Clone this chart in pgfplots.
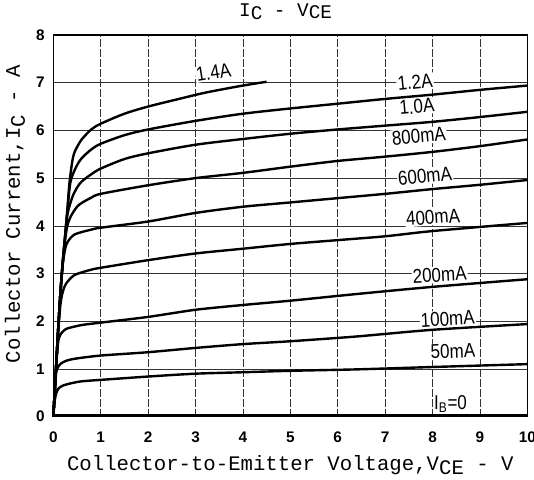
\documentclass[border=0pt]{standalone}
\usepackage{pgfplots}
\pgfplotsset{compat=1.18}
\usepackage{fontspec}
\setmainfont{Liberation Sans}
\newfontfamily\monofont{Liberation Mono}
\newfontfamily\lblfont[FakeStretch=0.85]{Liberation Sans}
\pgfplotsset{curve/.style={black, solid, no markers, line width=1.8pt, smooth, tension=0.45}}
\begin{document}
\begin{tikzpicture}
\useasboundingbox (-40pt,-46.8pt) rectangle (360.5pt,312.45pt);
\begin{axis}[
  at={(0pt,0pt)}, anchor=south west,
  scale only axis, width=355.5pt, height=286.2pt,
  xmin=0, xmax=10, ymin=0, ymax=8,
  xtick={0,1,...,10}, ytick={0,1,...,8},
  grid=major,
  x grid style={black!80, line width=0.45pt, dash pattern=on 6pt off 1.5pt},
  y grid style={black!80, line width=0.45pt},
  major tick length=0pt,
  axis line style={line width=0.8pt},
  tick label style={font=\fontsize{11.5}{13}\selectfont\bfseries},
  /pgf/number format/assume math mode=true,
  xticklabel style={yshift=-8pt},
  yticklabel style={xshift=-3pt},
  title={I\raisebox{-0.35ex}{C} - V\raisebox{-0.25ex}{CE}},
  title style={at={(axis description cs:0.49,1)}, anchor=base, yshift=8.25pt, font=\monofont\fontsize{14.5}{16}\selectfont},
  xlabel={Collector-to-Emitter Voltage,V\raisebox{-0.45ex}{CE} - V},
  xlabel style={at={(axis description cs:0.5,-0.14)}, anchor=base, font=\monofont\fontsize{15.5}{18}\selectfont},
  ylabel={Collector Current,I\raisebox{-0.45ex}{C} - A},
  ylabel style={at={(axis description cs:-0.081,0.53)}, anchor=center, font=\monofont\fontsize{15.5}{18}\selectfont},
  clip=false,
]
% IB = 0
\addplot[black, no markers, line width=1.8pt] coordinates {(0,0.02) (10,0.02)};
% 50 mA
\addplot[curve] coordinates {(0,0) (0.02,0.25) (0.05,0.45) (0.1,0.58) (0.2,0.65) (0.38,0.70) (0.6,0.74) (1,0.77) (2,0.84) (3,0.90) (4,0.93) (5,0.96) (6.4,0.99) (8,1.04) (10,1.10)};
% 100 mA
\addplot[curve] coordinates {(0,0) (0.03,0.5) (0.06,0.92) (0.1,1.04) (0.17,1.12) (0.3,1.18) (0.5,1.22) (1,1.28) (2,1.35) (3,1.44) (4,1.52) (5,1.58) (6.4,1.68) (8,1.82) (10,1.94)};
% 200 mA
\addplot[curve] coordinates {(0,0) (0.05,0.9) (0.1,1.55) (0.15,1.72) (0.22,1.80) (0.3,1.85) (0.6,1.92) (1,1.97) (2,2.09) (3,2.24) (4,2.34) (5,2.43) (6.4,2.57) (8,2.72) (10,2.88)};
% 400 mA
\addplot[curve] coordinates {(0,0) (0.05,0.9) (0.1,1.75) (0.15,2.35) (0.2,2.62) (0.27,2.79) (0.45,2.97) (0.8,3.08) (1,3.12) (2,3.28) (3,3.42) (4,3.52) (5,3.62) (6,3.70) (7,3.78) (8,3.89) (10,4.06)};
% 600 mA
\addplot[curve] coordinates {(0,0) (0.05,0.9) (0.1,1.8) (0.15,2.6) (0.2,3.2) (0.25,3.52) (0.3,3.66) (0.45,3.82) (0.8,3.92) (1,3.96) (2,4.09) (3,4.27) (4,4.40) (5,4.49) (6,4.58) (7,4.67) (8,4.77) (9,4.86) (10,4.96)};
% 800 mA
\addplot[curve] coordinates {(0,0) (0.05,0.9) (0.1,1.8) (0.15,2.6) (0.2,3.25) (0.25,3.72) (0.3,4.02) (0.38,4.22) (0.5,4.4) (0.6,4.48) (0.8,4.59) (1,4.67) (2,4.85) (3,5.0) (4,5.11) (5,5.24) (6,5.36) (7,5.45) (8,5.55) (9,5.67) (10,5.81)};
% 1.0 A
\addplot[curve] coordinates {(0,0) (0.05,0.9) (0.1,1.8) (0.15,2.6) (0.2,3.25) (0.25,3.8) (0.3,4.25) (0.4,4.6) (0.5,4.8) (0.6,4.93) (0.8,5.08) (1,5.2) (1.5,5.4) (2,5.52) (3,5.7) (4,5.82) (5,5.93) (6,6.02) (7,6.10) (8,6.18) (9,6.28) (10,6.39)};
% 1.2 A
\addplot[curve] coordinates {(0,0) (0.05,0.9) (0.1,1.8) (0.15,2.6) (0.2,3.25) (0.25,3.8) (0.3,4.35) (0.35,4.85) (0.4,5.05) (0.5,5.27) (0.6,5.42) (0.8,5.6) (1,5.72) (1.5,5.9) (2,6.02) (3,6.2) (4,6.35) (5,6.46) (6,6.56) (7,6.66) (8,6.75) (9,6.85) (10,6.94)};
% 1.4 A
\addplot[curve] coordinates {(0,0) (0.05,0.9) (0.1,1.8) (0.15,2.6) (0.2,3.25) (0.25,3.8) (0.3,4.4) (0.34,4.9) (0.4,5.35) (0.45,5.55) (0.59,5.8) (0.8,6.02) (1,6.14) (1.5,6.35) (2,6.5) (2.65,6.66) (3.2,6.79) (3.94,6.93) (4.5,7.02)};
% labels
\begin{scope}[every node/.style={font=\lblfont\fontsize{15}{17}\selectfont, fill=white, inner sep=0.8pt}]
\node[rotate=9] at (axis cs:3.38,7.22) {1.4A};
\node[rotate=6] at (axis cs:7.63,7.02) {1.2A};
\node[rotate=5] at (axis cs:7.67,6.50) {1.0A};
\node[rotate=5] at (axis cs:7.71,5.88) {800mA};
\node[rotate=5] at (axis cs:7.84,5.04) {600mA};
\node[rotate=4] at (axis cs:8.01,4.18) {400mA};
\node[rotate=3] at (axis cs:8.15,2.97) {200mA};
\node[rotate=3] at (axis cs:8.32,2.05) {100mA};
\node[rotate=2] at (axis cs:8.43,1.37) {50mA};
\node at (axis cs:8.38,0.26) {I\textsubscript{B}=0};
\end{scope}
\end{axis}
\end{tikzpicture}
\end{document}
